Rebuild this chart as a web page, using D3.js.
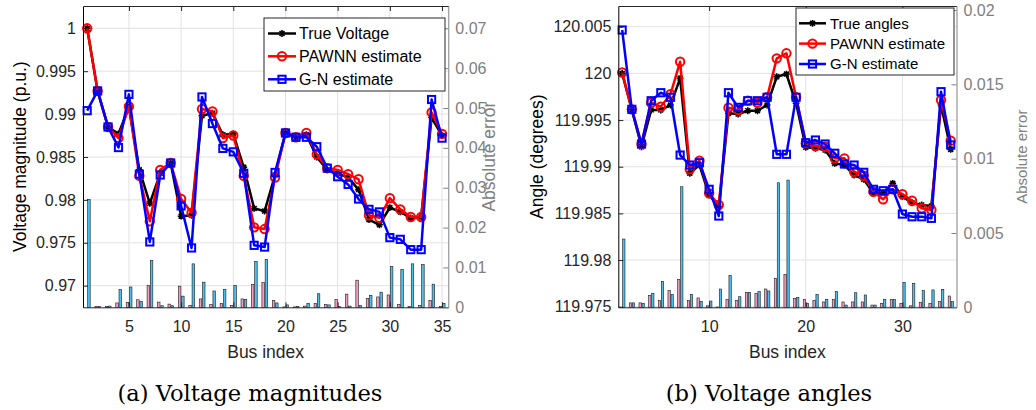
<!DOCTYPE html>
<html>
<head>
<meta charset="utf-8">
<script src="https://cdn.jsdelivr.net/npm/d3@7"></script>
<style>
  body { margin: 0; background: #fff; }
  svg { display: block; }
  text { font-family: "Liberation Sans", Arial, Helvetica, sans-serif; }
</style>
</head>
<body>
<svg id="fig" width="1036" height="410"></svg>
<script>
// ---- Bus numbers (IEEE 34-bus feeder, 35 nodes) ----
const buses = [1,2,3,4,5,6,7,8,9,10,11,12,13,14,15,16,17,18,19,20,21,22,23,24,25,26,27,28,29,30,31,32,33,34,35];

// ---- Voltage magnitudes (p.u.) ----
const vmTrue  = [1.0000,0.9927,0.9885,0.9877,0.9908,0.9835,0.9796,0.9831,0.9843,0.9781,0.9782,0.9898,0.9901,0.9876,0.9877,0.9838,0.9790,0.9787,0.9829,0.9878,0.9873,0.9876,0.9850,0.9835,0.9831,0.9826,0.9812,0.9777,0.9771,0.9791,0.9786,0.9779,0.9780,0.9896,0.9875];
const vmPawnn = [1.0000,0.9927,0.9885,0.9872,0.9909,0.9828,0.9775,0.9835,0.9843,0.9801,0.9785,0.9906,0.9903,0.9872,0.9875,0.9828,0.9768,0.9766,0.9826,0.9878,0.9873,0.9878,0.9853,0.9837,0.9835,0.9830,0.9824,0.9782,0.9779,0.9802,0.9789,0.9780,0.9780,0.9902,0.9877];
const vmGN    = [0.9904,0.9927,0.9885,0.9861,0.9923,0.9830,0.9751,0.9829,0.9843,0.9793,0.9744,0.9920,0.9889,0.9860,0.9856,0.9831,0.9747,0.9745,0.9832,0.9878,0.9873,0.9873,0.9862,0.9837,0.9827,0.9818,0.9801,0.9789,0.9786,0.9756,0.9754,0.9742,0.9742,0.9917,0.9872];
const vmErrPawnn = [0.0000,0.0002,0.0002,0.0011,0.0012,0.0019,0.0055,0.0013,0.0008,0.0053,0.0005,0.0021,0.0007,0.0010,0.0005,0.0021,0.0057,0.0062,0.0017,0.0001,0.0001,0.0003,0.0010,0.0007,0.0020,0.0033,0.0068,0.0022,0.0026,0.0031,0.0007,0.0002,0.0005,0.0017,0.0002];
const vmErrGN    = [0.0271,0.0002,0.0003,0.0045,0.0051,0.0015,0.0118,0.0004,0.0004,0.0028,0.0109,0.0063,0.0041,0.0045,0.0055,0.0020,0.0115,0.0120,0.0011,0.0006,0.0002,0.0010,0.0034,0.0006,0.0002,0.0003,0.0005,0.0030,0.0038,0.0102,0.0095,0.0109,0.0107,0.0058,0.0010];

// ---- Voltage angles (degrees) ----
const vaTrue  = [120.00000,119.99610,119.99214,119.99608,119.99608,119.99661,119.99947,119.98929,119.99018,119.98697,119.98571,119.99572,119.99565,119.99600,119.99600,119.99661,119.99964,119.99993,119.99680,119.99208,119.99197,119.99179,119.99036,119.99018,119.98911,119.98865,119.98715,119.98722,119.98822,119.98679,119.98614,119.98590,119.98579,119.99661,119.99186];
const vaPawnn = [120.00010,119.99615,119.99243,119.99686,119.99643,119.99776,120.00125,119.98972,119.99064,119.98715,119.98590,119.99632,119.99608,119.99707,119.99686,119.99744,120.00161,120.00215,119.99744,119.99251,119.99222,119.99214,119.99090,119.99090,119.98946,119.98903,119.98732,119.98651,119.98758,119.98707,119.98636,119.98555,119.98536,119.99715,119.99279];
const vaGN    = [120.00465,119.99615,119.99243,119.99707,119.99793,119.99744,119.99125,119.99018,119.99043,119.98758,119.98472,119.99793,119.99636,119.99707,119.99707,119.99744,119.99133,119.99133,119.99744,119.99257,119.99286,119.99243,119.99144,119.99029,119.99018,119.98940,119.98758,119.98743,119.98758,119.98493,119.98464,119.98464,119.98447,119.99804,119.99233];
const vaErrPawnn = [0.00000,0.00030,0.00030,0.00081,0.00045,0.00112,0.00188,0.00045,0.00063,0.00010,0.00002,0.00054,0.00047,0.00101,0.00094,0.00123,0.00195,0.00222,0.00060,0.00054,0.00045,0.00036,0.00054,0.00036,0.00036,0.00036,0.00015,0.00027,0.00054,0.00027,0.00010,0.00034,0.00027,0.00038,0.00076];
const vaErrGN    = [0.00459,0.00030,0.00027,0.00094,0.00175,0.00085,0.00811,0.00087,0.00040,0.00042,0.00123,0.00215,0.00071,0.00101,0.00105,0.00110,0.00838,0.00856,0.00067,0.00027,0.00087,0.00054,0.00105,0.00015,0.00098,0.00083,0.00015,0.00054,0.00054,0.00168,0.00161,0.00112,0.00117,0.00121,0.00038];

// ---- Tick values and labels ----
const vmXTicks = [5,10,15,20,25,30,35];
const vmYTicks = [0.97,0.975,0.98,0.985,0.99,0.995,1];
const vmYLabels = ["0.97","0.975","0.98","0.985","0.99","0.995","1"];
const vmY2Ticks = [0,0.01,0.02,0.03,0.04,0.05,0.06,0.07];
const vmY2Labels = ["0","0.01","0.02","0.03","0.04","0.05","0.06","0.07"];

const vaXTicks = [10,20,30];
const vaYTicks = [119.975,119.98,119.985,119.99,119.995,120,120.005];
const vaYLabels = ["119.975","119.98","119.985","119.99","119.995","120","120.005"];
const vaY2Ticks = [0,0.005,0.01,0.015,0.02];
const vaY2Labels = ["0","0.005","0.01","0.015","0.02"];

const vmLegend = ["True Voltage","PAWNN estimate","G-N estimate"];
const vaLegend = ["True angles","PAWNN estimate","G-N estimate"];

const COL_TRUE = "#000000", COL_PAWNN = "#ff0000", COL_GN = "#0000ff";
const COL_BAR_P = "#f29cc2", COL_BAR_G = "#4dbeee";
const COL_GRID = "#e2e2e2", COL_AX = "#262626", COL_AX2 = "#808080";

const svg = d3.select("#fig");

function asterisk(s) {
  const a = s * 0.72;
  return `M${-s},0H${s}M0,${-s}V${s}M${-a},${-a}L${a},${a}M${-a},${a}L${a},${-a}`;
}

function drawMarkers(g, xs, ys, kind, color) {
  const pts = xs.map((v, i) => [v, ys[i]]);
  if (kind === "circle") {
    g.selectAll(null).data(pts).join("circle")
      .attr("cx", d => d[0]).attr("cy", d => d[1]).attr("r", 4.2)
      .attr("fill", "none").attr("stroke", color).attr("stroke-width", 2);
  } else if (kind === "square") {
    g.selectAll(null).data(pts).join("rect")
      .attr("x", d => d[0] - 3.6).attr("y", d => d[1] - 3.6)
      .attr("width", 7.2).attr("height", 7.2)
      .attr("fill", "none").attr("stroke", color).attr("stroke-width", 2);
  } else {
    g.selectAll(null).data(pts).join("path")
      .attr("transform", d => `translate(${d[0]},${d[1]})`)
      .attr("d", asterisk(3.4))
      .attr("fill", "none").attr("stroke", color).attr("stroke-width", 1.6);
  }
}

function drawPanel(p) {
  const b = p.box;
  const x = d3.scaleLinear().domain(p.xDomain).range([b.left, b.right]);
  const y = d3.scaleLinear().domain(p.yDomain).range([b.bottom, b.top]);
  const y2 = d3.scaleLinear().domain(p.y2Domain).range([b.bottom, b.top]);
  const g = svg.append("g");

  // grid
  g.append("g").selectAll("line").data(p.xTicks).join("line")
    .attr("x1", d => x(d)).attr("x2", d => x(d))
    .attr("y1", b.top).attr("y2", b.bottom)
    .attr("stroke", COL_GRID).attr("stroke-width", 1);
  g.append("g").selectAll("line").data(p.yTicks).join("line")
    .attr("x1", b.left).attr("x2", b.right)
    .attr("y1", d => y(d)).attr("y2", d => y(d))
    .attr("stroke", COL_GRID).attr("stroke-width", 1);

  // error bars (right axis)
  const barG = g.append("g").attr("stroke", "#1a1a1a").attr("stroke-width", 0.6);
  barG.selectAll(null).data(p.buses).join("rect")
    .attr("x", d => x(d - 0.26)).attr("width", d => x(d - 0.02) - x(d - 0.26))
    .attr("y", (d, i) => y2(p.errP[i])).attr("height", (d, i) => y2(0) - y2(p.errP[i]))
    .attr("fill", COL_BAR_P);
  barG.selectAll(null).data(p.buses).join("rect")
    .attr("x", d => x(d + 0.05)).attr("width", d => x(d + 0.29) - x(d + 0.05))
    .attr("y", (d, i) => y2(p.errG[i])).attr("height", (d, i) => y2(0) - y2(p.errG[i]))
    .attr("fill", COL_BAR_G);

  // series lines and markers
  const xs = p.buses.map(d => x(d));
  const series = [
    [p.trueV, COL_TRUE, "star"],
    [p.pawnn, COL_PAWNN, "circle"],
    [p.gn, COL_GN, "square"]
  ];
  series.forEach(([vals, col, kind]) => {
    const line = d3.line().x((d, i) => xs[i]).y(d => y(d));
    const sg = g.append("g");
    sg.append("path").datum(vals).attr("d", line)
      .attr("fill", "none").attr("stroke", col).attr("stroke-width", 2.5)
      .attr("stroke-linejoin", "round");
    drawMarkers(sg, xs, vals.map(v => y(v)), kind, col);
  });

  // axes
  const fs = 16;
  const axB = g.append("g").attr("transform", `translate(0,${b.bottom})`)
    .call(d3.axisBottom(x).tickValues(p.xTicks).tickSizeInner(-5).tickSizeOuter(0).tickPadding(13));
  const axT = g.append("g").attr("transform", `translate(0,${b.top})`)
    .call(d3.axisTop(x).tickValues(p.xTicks).tickSizeInner(-5).tickSizeOuter(0).tickFormat(""));
  const axL = g.append("g").attr("transform", `translate(${b.left},0)`)
    .call(d3.axisLeft(y).tickValues(p.yTicks).tickSizeInner(-5).tickSizeOuter(0).tickPadding(7)
      .tickFormat((d, i) => p.yLabels[i]));
  const axR = g.append("g").attr("transform", `translate(${b.right},0)`)
    .call(d3.axisRight(y2).tickValues(p.y2Ticks).tickSizeInner(-5).tickSizeOuter(0).tickPadding(7)
      .tickFormat((d, i) => p.y2Labels[i]));
  [axB, axT, axL].forEach(a => {
    a.selectAll("path.domain").attr("stroke", COL_AX).attr("stroke-width", 1);
    a.selectAll(".tick line").attr("stroke", COL_AX).attr("stroke-width", 1);
    a.selectAll("text").attr("fill", "#262626").style("font-size", fs + "px")
      .style("font-family", '"Liberation Sans", Arial, sans-serif');
  });
  axL.selectAll("path.domain").attr("stroke", "#000");
  axR.selectAll("path.domain").attr("stroke", COL_AX2).attr("stroke-width", 1);
  axR.selectAll(".tick line").attr("stroke", COL_AX2);
  axR.selectAll("text").attr("fill", COL_AX2).style("font-size", p.y2Font + "px")
    .style("font-family", '"Liberation Sans", Arial, sans-serif');

  // axis titles
  g.append("text").attr("x", (b.left + b.right) / 2).attr("y", p.xTitleY)
    .attr("text-anchor", "middle").style("font-size", "17.5px").attr("fill", "#262626")
    .text("Bus index");
  g.append("text").attr("transform", `translate(${p.yTitleX},${(b.top + b.bottom) / 2}) rotate(-90)`)
    .attr("text-anchor", "middle").attr("dy", "0.35em").style("font-size", "17.5px").attr("fill", "#000")
    .text(p.yTitle);
  g.append("text").attr("transform", `translate(${p.y2TitleX},${(b.top + b.bottom) / 2}) rotate(-90)`)
    .attr("text-anchor", "middle").attr("dy", "0.35em").style("font-size", p.y2TitleFont + "px").attr("fill", COL_AX2)
    .text("Absolute error");

  // legend
  const L = p.legend;
  const lg = g.append("g");
  lg.append("rect").attr("x", L.x).attr("y", L.y).attr("width", L.w).attr("height", L.h)
    .attr("fill", "#fff").attr("stroke", "#262626").attr("stroke-width", 1);
  const legCols = [[COL_TRUE, "star"], [COL_PAWNN, "circle"], [COL_GN, "square"]];
  p.legendLabels.forEach((lab, i) => {
    const cy = L.rows[i];
    lg.append("line").attr("x1", L.lx0).attr("x2", L.lx1).attr("y1", cy).attr("y2", cy)
      .attr("stroke", legCols[i][0]).attr("stroke-width", 2.5);
    drawMarkers(lg, [(L.lx0 + L.lx1) / 2], [cy], legCols[i][1], legCols[i][0]);
    lg.append("text").attr("x", L.tx).attr("y", cy).attr("dy", "0.36em")
      .style("font-size", L.fs + "px").attr("fill", "#000").text(lab);
  });

  // caption
  const cap = svg.append("text").attr("x", p.capX).attr("y", 401)
    .attr("text-anchor", "middle")
    .style("font-family", '"DejaVu Serif", "Liberation Serif", serif')
    .style("font-size", "20px").attr("fill", "#000").text(p.caption);
  return cap;
}

const capA = drawPanel({
  box: { left: 83, right: 448.3, top: 6, bottom: 307.3 },
  xDomain: [0.6, 35.6], yDomain: [0.96748, 1.0026], y2Domain: [0, 0.07559],
  buses, trueV: vmTrue, pawnn: vmPawnn, gn: vmGN, errP: vmErrPawnn, errG: vmErrGN,
  xTicks: vmXTicks, yTicks: vmYTicks, yLabels: vmYLabels, y2Ticks: vmY2Ticks, y2Labels: vmY2Labels,
  y2Font: 16, y2TitleFont: 17.5,
  xTitleY: 358, yTitle: "Voltage magnitude (p.u.)", yTitleX: 20, y2TitleX: 489,
  legendLabels: vmLegend,
  legend: { x: 264, y: 18, w: 181, h: 73, rows: [33.5, 56.3, 79.3], lx0: 268, lx1: 296, tx: 299, fs: 16 },
  caption: "(a) Voltage magnitudes", capX: 250
});

const capB = drawPanel({
  box: { left: 618.3, right: 956.5, top: 6, bottom: 307.3 },
  xDomain: [0.6, 35.6], yDomain: [119.97494, 120.00722], y2Domain: [0, 0.02027],
  buses, trueV: vaTrue, pawnn: vaPawnn, gn: vaGN, errP: vaErrPawnn, errG: vaErrGN,
  xTicks: vaXTicks, yTicks: vaYTicks, yLabels: vaYLabels, y2Ticks: vaY2Ticks, y2Labels: vaY2Labels,
  y2Font: 16, y2TitleFont: 15,
  xTitleY: 358, yTitle: "Angle (degrees)", yTitleX: 537, y2TitleX: 1022,
  legendLabels: vaLegend,
  legend: { x: 796, y: 8, w: 158, h: 67, rows: [23.3, 43.6, 64], lx0: 799, lx1: 826, tx: 830, fs: 15 },
  caption: "(b) Voltage angles", capX: 769
});

// size both captions so the first spans its measured width
const wA = capA.node().getComputedTextLength();
const capFs = 20 * 265 / wA;
capA.style("font-size", capFs + "px");
capB.style("font-size", capFs + "px");
</script>
</body>
</html>
